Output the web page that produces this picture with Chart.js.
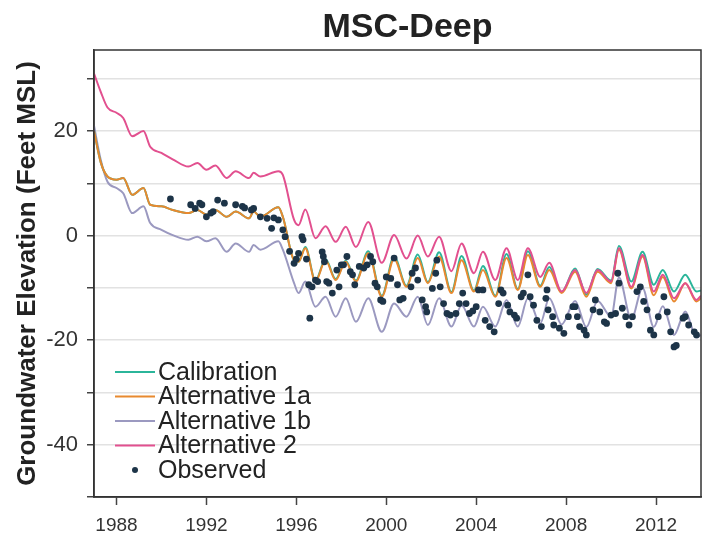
<!DOCTYPE html>
<html>
<head>
<meta charset="utf-8">
<script src="https://cdn.jsdelivr.net/npm/chart.js@4/dist/chart.umd.min.js"></script>
<style>
  html, body { margin: 0; padding: 0; background: #fff; }
  #wrap { width: 705px; height: 537px; }
</style>
</head>
<body>
<div id="wrap"><canvas id="chart" width="705" height="537"></canvas></div>
<script>
const modelYears = [1987.0, 1987.3, 1987.6, 1988.0, 1988.3, 1988.7, 1989.2, 1989.5, 1990.0, 1990.5,
  1991.2, 1991.6, 1992.0, 1992.4, 1992.9, 1993.3, 1993.9, 1994.1, 1994.4, 1995.2,
  1995.4, 1995.9, 1996.1, 1996.4, 1996.85, 1997.3, 1997.75, 1998.2, 1998.65, 1999.2,
  1999.8, 2000.35, 2000.9, 2001.4, 2001.85, 2002.35, 2002.9, 2003.35, 2003.9, 2004.3,
  2004.85, 2005.35, 2005.85, 2006.3, 2006.85, 2007.25, 2007.8, 2008.4, 2008.9, 2009.4,
  2010.0, 2010.35, 2010.9, 2011.4, 2011.9, 2012.3, 2012.8, 2013.3, 2013.8, 2014.0];

const calibration = [20, 14, 11.3, 10.7, 11, 7.8, 9.1, 5.9, 5.6, 4.9,
  4.3, 4.9, 4.0, 4.9, 3.6, 4.6, 3.3, 4.6, 3.6, 5.4,
  3.6, -4.7, -5.0, -2.2, -8.6, -4.5, -8.3, -4.8, -8.6, -3.0,
  -11.5, -4.0, -9.6, -3.6, -8.9, -3.2, -10.8, -3.9, -10.5, -5.8,
  -11.5, -3.5, -10.2, -3.0, -9.6, -6.0, -10.8, -6.3, -11.3, -6.4,
  -8.6, -2.0, -8.8, -3.1, -9.4, -6.6, -10.7, -7.5, -10.7, -10.5];

const alt1a = [20, 14, 11.3, 10.7, 11, 7.8, 9.1, 5.9, 5.6, 4.9,
  4.3, 4.9, 4.0, 4.9, 3.6, 4.6, 3.3, 4.6, 3.6, 5.4,
  3.6, -4.7, -5.0, -2.4, -8.8, -4.7, -8.5, -5.0, -8.8, -3.4,
  -11.7, -4.5, -9.8, -4.3, -9.1, -4.0, -11.0, -4.7, -10.7, -6.6,
  -11.7, -4.3, -10.4, -3.7, -9.8, -6.6, -11.0, -6.9, -11.7, -6.9,
  -9.1, -2.7, -10.1, -4.0, -11.4, -7.9, -12.6, -9.1, -12.6, -12];

const alt1b = [21, 14.5, 10.3, 9.1, 8.1, 4.3, 5.6, 2.4, 1.1, 0.1,
  -0.8, -0.2, -1.1, -0.5, -3.1, -1.5, -3.1, -1.8, -2.7, -1.1,
  -2.7, -9.1, -11.0, -8.8, -13.6, -11.7, -15.5, -12.0, -16.5, -12.0,
  -18.4, -13.0, -15.5, -11.7, -17.1, -12.0, -17.4, -13.3, -17.4, -13.6,
  -17.4, -12.3, -17.4, -12.0, -16.8, -12.0, -17.0, -12.5, -17.5, -12.5,
  -15.5, -8.0, -16.0, -10.0, -17.5, -13.5, -19.0, -14.5, -19.5, -19];

const alt2 = [31, 27.5, 24.5, 23.5, 22.5, 19, 20, 17, 15.8, 14.6,
  13.2, 13.9, 12.6, 13.4, 11.0, 12.3, 11.0, 12.0, 11.3, 12.3,
  11.6, 3.0, 2.0, 5.0, -0.5, 1.8, -1.2, 1.7, -2.2, 2.6,
  -5.2, 0.1, -4.4, 0, -4.0, -0.2, -6.8, -1.5, -7.2, -3.1,
  -8.5, -2.4, -8.5, -2.4, -7.9, -5.2, -10.7, -6.6, -11.0, -6.6,
  -8.8, -2.4, -9.8, -3.7, -10.7, -7.5, -12.0, -9.1, -12.3, -11.5];

const obsYears = [1990.4, 1991.3, 1991.5, 1991.7, 1991.8, 1992.0, 1992.2, 1992.3, 1992.5, 1992.8,
  1993.3, 1993.6, 1993.7, 1994.0, 1994.1, 1994.4, 1994.7, 1994.9, 1995.0, 1995.2,
  1995.4, 1995.5, 1995.7, 1995.9, 1996.0, 1996.1, 1996.25, 1996.3, 1996.45, 1996.55,
  1996.6, 1996.7, 1996.85, 1996.95, 1997.15, 1997.2, 1997.25, 1997.35, 1997.45, 1997.6,
  1997.8, 1997.9, 1998.0, 1998.1, 1998.25, 1998.4, 1998.5, 1998.6, 1998.8, 1999.0,
  1999.15, 1999.3, 1999.4, 1999.5, 1999.6, 1999.75, 1999.85, 2000.0, 2000.2, 2000.35,
  2000.5, 2000.6, 2000.75, 2001.1, 2001.15, 2001.3, 2001.4, 2001.6, 2001.75, 2001.8,
  2002.05, 2002.2, 2002.25, 2002.4, 2002.55, 2002.7, 2002.85, 2003.1, 2003.25, 2003.4,
  2003.55, 2003.7, 2003.85, 2004.0, 2004.1, 2004.3, 2004.4, 2004.6, 2004.8, 2005.0,
  2005.1, 2005.2, 2005.4, 2005.5, 2005.7, 2005.8, 2006.0, 2006.1, 2006.3, 2006.4,
  2006.55, 2006.7, 2006.9, 2007.1, 2007.15, 2007.2, 2007.4, 2007.45, 2007.7, 2007.9,
  2008.1, 2008.3, 2008.4, 2008.5, 2008.6, 2008.8, 2008.9, 2009.2, 2009.3, 2009.5,
  2009.7, 2009.8, 2010.0, 2010.2, 2010.3, 2010.35, 2010.5, 2010.65, 2010.8, 2010.95,
  2011.15, 2011.3, 2011.45, 2011.6, 2011.75, 2011.9, 2012.1, 2012.35, 2012.5, 2012.65,
  2012.8, 2012.9, 2013.2, 2013.3, 2013.45, 2013.7, 2013.8];

const observed = [7.0, 5.9, 5.2, 6.2, 5.9, 3.6, 4.3, 4.6, 6.8, 6.2,
  5.9, 5.6, 5.3, 4.9, 5.2, 3.6, 3.3, 1.4, 3.4, 3.0,
  1.1, -0.2, -3.0, -5.3, -4.5, -3.4, -0.2, -0.8, -4.5, -9.4,
  -15.8, -9.8, -8.5, -8.8, -3.1, -4.0, -5.0, -8.8, -9.1, -11.0,
  -6.6, -9.8, -5.6, -5.6, -4.0, -6.9, -7.5, -9.4, -5.9, -6.2,
  -5.6, -4.0, -5.0, -9.1, -9.8, -12.3, -12.6, -7.9, -8.2, -4.3,
  -9.4, -12.3, -12.0, -9.8, -7.2, -6.2, -8.5, -12.3, -13.6, -14.6,
  -10.1, -7.2, -4.7, -9.8, -13.0, -14.9, -15.2, -14.9, -13.0, -11.0,
  -13.0, -14.9, -14.4, -13.6, -10.4, -10.4, -16.2, -17.4, -18.4, -13.0,
  -10.4, -11.0, -13.3, -14.6, -15.2, -15.8, -11.7, -11.0, -7.5, -11.7,
  -13.3, -16.2, -17.4, -12.0, -10.4, -14.2, -15.5, -17.1, -17.7, -18.7,
  -15.5, -13.6, -13.6, -15.5, -17.4, -18.1, -19.0, -14.2, -12.3, -14.6,
  -16.5, -16.8, -15.2, -14.9, -7.2, -9.1, -13.9, -15.5, -17.1, -15.5,
  -10.7, -9.8, -12.6, -14.2, -18.1, -19.0, -15.5, -11.7, -14.6, -18.4,
  -21.3, -21.0, -15.8, -15.5, -17.1, -18.4, -19.0];

const xTicks = [1988, 1992, 1996, 2000, 2004, 2008, 2012];
const yTicks = [-50, -40, -30, -20, -10, 0, 10, 20, 30];

const seriesNames = ['Calibration', 'Alternative 1a', 'Alternative 1b', 'Alternative 2', 'Observed'];
const seriesColors = ['#2bb59a', '#e8892f', '#9b99c0', '#e2508f', '#1d3448'];

const toPoints = (xs, ys) => xs.map((x, i) => ({ x: x, y: ys[i] }));

const lineSet = (i, values, order) => ({
  label: seriesNames[i],
  data: toPoints(modelYears, values),
  borderColor: seriesColors[i],
  borderWidth: 2,
  pointRadius: 0,
  cubicInterpolationMode: 'monotone',
  order: order
});

const FONT = '"Liberation Sans", Arial, sans-serif';

// title, frame and in-plot legend
const decorations = {
  id: 'decorations',
  afterDraw(chart) {
    const { ctx, chartArea: a } = chart;
    ctx.save();
    ctx.strokeStyle = '#333';
    ctx.lineWidth = 1.5;
    ctx.strokeRect(a.left, a.top, a.right - a.left, a.bottom - a.top);

    ctx.fillStyle = '#222';
    ctx.font = 'bold 34px ' + FONT;
    ctx.textAlign = 'center';
    ctx.textBaseline = 'alphabetic';
    ctx.fillText('MSC-Deep', (a.left + a.right) / 2 + 10, 37);

    ctx.font = '25px ' + FONT;
    ctx.textAlign = 'left';
    ctx.textBaseline = 'middle';
    seriesNames.forEach((name, i) => {
      const y = 372 + i * 24.5;
      if (i < 4) {
        ctx.strokeStyle = seriesColors[i];
        ctx.lineWidth = 2;
        ctx.beginPath();
        ctx.moveTo(a.left + 21, y);
        ctx.lineTo(a.left + 61, y);
        ctx.stroke();
      } else {
        ctx.fillStyle = seriesColors[i];
        ctx.beginPath();
        ctx.arc(a.left + 41, y, 3, 0, Math.PI * 2);
        ctx.fill();
      }
      ctx.fillStyle = '#222';
      ctx.fillText(name, a.left + 64, y + 1);
    });
    ctx.restore();
  }
};

new Chart(document.getElementById('chart'), {
  type: 'line',
  data: {
    datasets: [
      lineSet(0, calibration, 4),
      lineSet(1, alt1a, 3),
      lineSet(2, alt1b, 5),
      lineSet(3, alt2, 2),
      {
        label: seriesNames[4],
        data: toPoints(obsYears, observed),
        showLine: false,
        pointRadius: 3.4,
        pointBorderWidth: 0,
        pointBackgroundColor: seriesColors[4],
        order: 1
      }
    ]
  },
  options: {
    responsive: false,
    animation: false,
    devicePixelRatio: 1,
    layout: { padding: { top: 50, right: 4, left: 0, bottom: 0 } },
    plugins: {
      legend: { display: false },
      tooltip: { enabled: false }
    },
    scales: {
      x: {
        type: 'linear',
        min: 1987,
        max: 2014,
        afterBuildTicks: (s) => { s.ticks = xTicks.map((v) => ({ value: v })); },
        afterFit: (s) => { s.height = 40; },
        ticks: {
          color: '#333',
          font: { family: FONT, size: 19 },
          padding: 9,
          maxRotation: 0,
          callback: (v) => String(v)
        },
        grid: { drawOnChartArea: false, tickLength: 8, tickColor: '#444', tickWidth: 1.5 },
        border: { display: true, color: '#333', width: 1.5 }
      },
      y: {
        min: -50,
        max: 35.5,
        afterBuildTicks: (s) => { s.ticks = yTicks.map((v) => ({ value: v })); },
        afterFit: (s) => { s.width = 94; },
        ticks: {
          color: '#333',
          font: { family: FONT, size: 22 },
          padding: 9,
          callback: (v) => (v % 20 === 0 ? String(v) : '')
        },
        grid: {
          color: (c) => (c.tick && c.tick.value === -50 ? 'rgba(0,0,0,0)' : '#e2e2e2'),
          lineWidth: 1.5,
          tickLength: 7,
          tickColor: '#444',
          tickWidth: 1.5
        },
        border: { display: true, color: '#333', width: 1.5 },
        title: {
          display: true,
          text: 'Groundwater Elevation (Feet MSL)',
          color: '#222',
          font: { family: FONT, size: 26, weight: 'bold' },
          padding: { top: 12, bottom: 0 }
        }
      }
    }
  },
  plugins: [decorations]
});
</script>
</body>
</html>
